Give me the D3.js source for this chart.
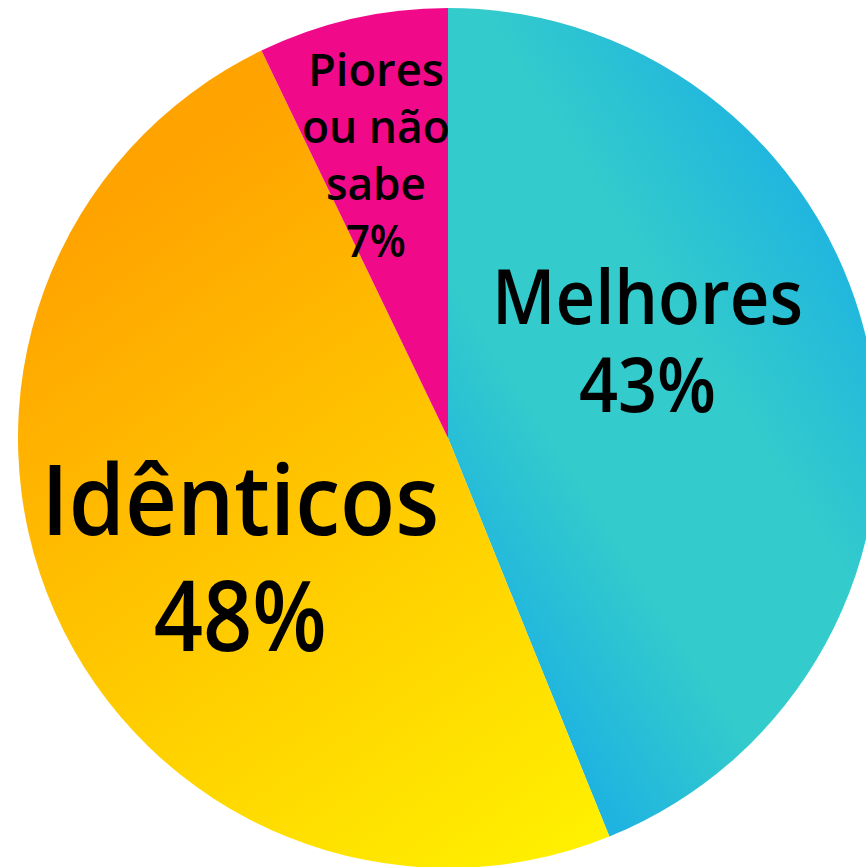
<!DOCTYPE html>
<html>
<head>
<meta charset="utf-8">
<script src="https://cdn.jsdelivr.net/npm/d3@7"></script>
<style>
  html, body { margin: 0; padding: 0; background: #ffffff; }
  svg { display: block; }
</style>
</head>
<body>
<svg id="chart" width="866" height="867"></svg>
<script>
// ---- data ----
const categories = ["Melhores", "Idênticos", "Piores ou não sabe"];
const values = [43, 48, 7];
const labelLines = [["Melhores", "43%"], ["Idênticos", "48%"], ["Piores", "ou não", "sabe", "7%"]];

// ---- layout / style (not data) ----
const W = 866, H = 867;
const cx = 448, cy = 438, R = 430;
const fontSizes = [76, 98, 46];
const lineHeights = [88, 116, 57];
const textWidths = [[311, 137], [398, 173], [136, 148, 100, 60]];
// label anchor: [angle (deg from 12 o'clock, clockwise), distance from centre]
const labelAnchor = [[64, 222], [240, 240], [-14.3, 292]];

const svg = d3.select("#chart");
const defs = svg.append("defs");

// gradients are in page coordinates (slices drawn in a translated group, so offset)
const gTeal = defs.append("linearGradient").attr("id", "gTeal")
  .attr("gradientUnits", "userSpaceOnUse")
  .attr("x1", 240 - cx).attr("y1", 235 - cy).attr("x2", 669 - cx).attr("y2", -40 - cy);
[[0, "#1fb4e0"], [0.3, "#33cbcc"], [0.64, "#33cbcc"], [1, "#1fb4e0"]]
  .forEach(([o, c]) => gTeal.append("stop").attr("offset", o).attr("stop-color", c));

const gYel = defs.append("linearGradient").attr("id", "gYel")
  .attr("gradientUnits", "userSpaceOnUse")
  .attr("x1", 130 - cx).attr("y1", 190 - cy).attr("x2", 600 - cx).attr("y2", 860 - cy);
[[0, "#ffa300"], [1, "#fff200"]]
  .forEach(([o, c]) => gYel.append("stop").attr("offset", o).attr("stop-color", c));

const fills = ["url(#gTeal)", "url(#gYel)", "#f00a8a"];

const pie = d3.pie().sort(null).value(d => d);
const arc = d3.arc().innerRadius(0).outerRadius(R);
const arcs = pie(values);

const g = svg.append("g").attr("transform", `translate(${cx},${cy})`);

g.selectAll("path.slice")
  .data(arcs)
  .join("path")
  .attr("class", "slice")
  .attr("d", arc)
  .attr("fill", (d, i) => fills[i]);

// labels
arcs.forEach((d, i) => {
  const [angDeg, dist] = labelAnchor[i];
  const a = angDeg * Math.PI / 180;
  const x = dist * Math.sin(a);
  const y = -dist * Math.cos(a);
  const lines = labelLines[i];
  const fs = fontSizes[i], lh = lineHeights[i];
  const capH = fs * 0.714;
  const blockH = (lines.length - 1) * lh + capH;
  const firstBaseline = y - blockH / 2 + capH;
  lines.forEach((ln, k) => {
    g.append("text")
      .attr("text-anchor", "middle")
      .attr("font-family", "'Open Sans', 'Noto Sans', sans-serif")
      .attr("font-weight", 650)
      .attr("font-size", fs)
      .attr("fill", "#000")
      .attr("x", x)
      .attr("y", firstBaseline + k * lh)
      .attr("textLength", textWidths[i][k])
      .attr("lengthAdjust", "spacingAndGlyphs")
      .text(ln);
  });
});
</script>
</body>
</html>
